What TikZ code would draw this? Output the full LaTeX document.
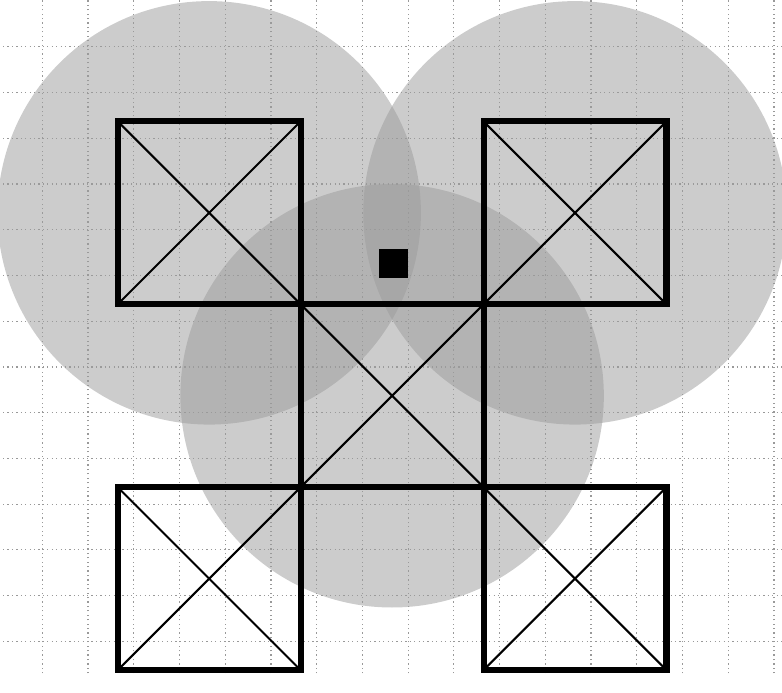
\documentclass[tikz,border=0pt]{standalone}
\begin{document}
\begin{tikzpicture}[x=1cm,y=1cm,
  gridline/.style={gray!80, dotted, line width=0.75pt},
  zone/.style={fill={rgb,255:red,155;green,155;blue,155}, fill opacity=0.51},
  frame/.style={line width=3.8pt},
  cross/.style={line width=1.3pt}]
\useasboundingbox (-8.574,-6.478) rectangle (8.526,8.654);
\begin{scope}
\clip (-8.574,-6.478) rectangle (8.526,8.654);
% grid
\foreach \k in {-8,...,8}
  \draw[gridline] (\k+0.35,-6.07) -- (\k+0.35,8.8);
\foreach \k in {-6,...,7}
  \draw[gridline] (-8.7,\k+0.63) -- (8.7,\k+0.63);
% zones
\fill[zone] (-4,4) circle (4.63);
\fill[zone] (4,4) circle (4.63);
\fill[zone] (0,0) circle (4.63);
\end{scope}
% corners
\coordinate (TL) at (-6,6);
\coordinate (TR) at (6,6);
\coordinate (BL) at (-6,-6);
\coordinate (BR) at (6,-6);
% long diagonals
\draw[cross] (TL) -- (BR);
\draw[cross] (TR) -- (BL);
% short diagonals
\draw[cross] (-6,2) -- (-2,6);
\draw[cross] (2,6) -- (6,2);
\draw[cross] (-6,-2) -- (-2,-6);
\draw[cross] (2,-6) -- (6,-2);
% frames
\draw[frame] (-6,2) rectangle (-2,6);
\draw[frame] (2,2) rectangle (6,6);
\draw[frame] (-2,-2) rectangle (2,2);
\draw[frame] (-6,-6) rectangle (-2,-2);
\draw[frame] (2,-6) rectangle (6,-2);
% marker
\fill (-0.28,2.581) rectangle (0.354,3.209);
\end{tikzpicture}
\end{document}
